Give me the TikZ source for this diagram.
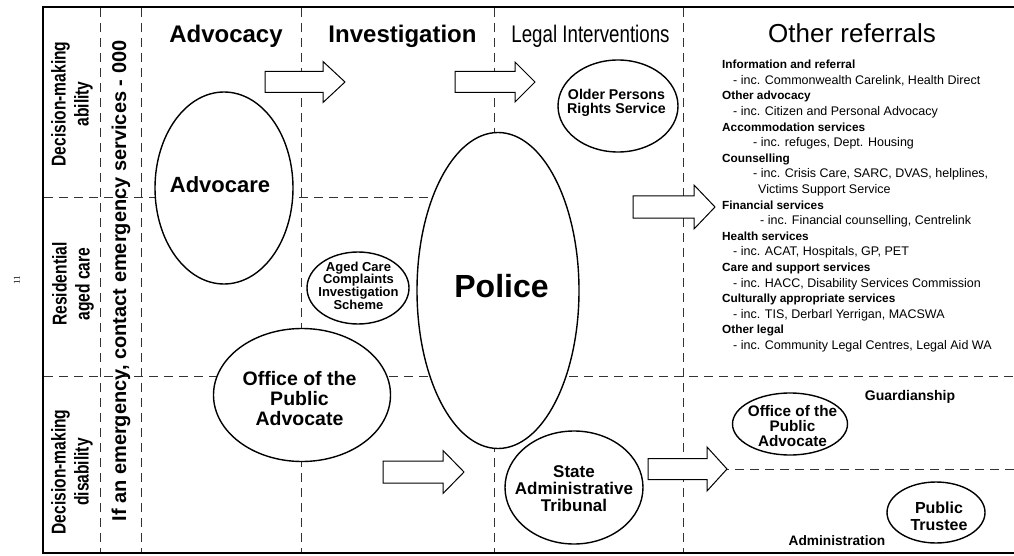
\documentclass[tikz,border=0pt]{standalone}
\usepackage{fontspec}
\setmainfont{Liberation Sans}
\newfontfamily\narrowfont[FakeStretch=0.78]{Liberation Sans}
\newfontfamily\seriffont{Liberation Serif}
\usetikzlibrary{shapes.geometric}
\newcommand\fs[2]{\fontsize{#1}{#2}\selectfont}
\newcommand\blockarr[6]{\draw[blockarrow] (#1,#4-#5) -- (#2,#4-#5) -- (#2,#4-#6) -- (#3,#4) -- (#2,#4+#6) -- (#2,#4+#5) -- (#1,#4+#5) -- cycle;}
\newcommand\refhead[1]{{\bfseries\fs{11.8}{15.6}#1}}
\begin{document}
\begin{tikzpicture}[x=1pt,y=-1pt,
  divline/.style={draw=black!80,line width=0.9pt,dash pattern=on 9pt off 6pt},
  frameline/.style={draw=black,line width=2pt},
  bubble/.style={draw=black,fill=white,ellipse,line width=1.4pt,inner sep=0pt},
  btext/.style={inner sep=0pt,align=center},
  blockarrow/.style={draw=black,fill=white,line width=1pt,line join=miter},
  colhead/.style={anchor=base,inner sep=0pt},
  rowlabel/.style={rotate=90,align=center,inner sep=0pt,font=\narrowfont\bfseries\fs{20}{23}}
]
\useasboundingbox (0,0) rectangle (1014,556);
\fill[white] (0,0) rectangle (1014,556);

% frame
\coordinate (tl) at (43,7);
\coordinate (tr) at (1014,7);
\coordinate (bl) at (43,553);
\coordinate (br) at (1014,553);
\draw[frameline] (tr) -- (tl) -- (bl) -- (br);

% vertical dividers
\draw[divline] (100,8) -- (100,552);
\draw[divline] (141,8) -- (141,552);
\draw[divline] (301,8) -- (301,552);
\draw[divline] (494,8) -- (494,552);
\draw[divline] (683,8) -- (683,552);
% horizontal dividers
\draw[divline] (44,197) -- (498,197);
\draw[divline] (44,376) -- (1014,376);
\draw[divline] (720,469) -- (1014,469);

% block arrows
\blockarr{265}{323}{345}{82}{10.5}{20.5}
\blockarr{455}{515}{535}{82}{10.5}{20}
\blockarr{633}{694}{715}{207}{11}{22}
\blockarr{383}{443}{464}{472}{11}{21.5}
\blockarr{648}{707}{727}{469}{10.5}{22}

% ellipses
\node[bubble,minimum width=138pt,minimum height=192pt] (advocare) at (224,188) {};
\node[bubble,minimum width=102pt,minimum height=72pt] (acc) at (358,288) {};
\node[bubble,minimum width=177pt,minimum height=133pt] (opa) at (302,395) {};
\node[bubble,minimum width=162pt,minimum height=316pt] (police) at (498,290.5) {};
\node[bubble,minimum width=120pt,minimum height=92pt] (oprs) at (618,106) {};
\node[bubble,minimum width=138pt,minimum height=113pt] (sat) at (574,487.5) {};
\node[bubble,minimum width=115pt,minimum height=62pt] (opa2) at (790,424) {};
\node[bubble,minimum width=98pt,minimum height=61pt] (pt) at (936,512.5) {};

% ellipse texts
\node[btext,anchor=base,font=\bfseries\fs{22}{24}] (advocare-t) at (220,193) {Advocare};
\node[btext,font=\bfseries\fs{13}{12.7}] (acc-t) at (358.5,285.5) {Aged Care\\Complaints\\Investigation\\Scheme};
\node[btext,font=\bfseries\fs{19.5}{19.7}] (opa-t) at (299.5,398.5) {Office of the\\Public\\Advocate};
\node[btext,anchor=base,font=\bfseries\fs{32}{34}] (police-t) at (501.5,297) {Police};
\node[btext,font=\bfseries\fs{14.2}{14.2}] (oprs-t) at (616.5,103) {Older Persons\\Rights Service};
\node[btext,font=\bfseries\fs{17}{17}] (sat-t) at (574,488.5) {State\\Administrative\\Tribunal};
\node[btext,font=\bfseries\fs{15.3}{15}] (opa2-t) at (792.5,426.5) {Office of the\\Public\\Advocate};
\node[btext,font=\bfseries\fs{16}{17}] (pt-t) at (939,516) {Public\\Trustee};

% column headers
\node[colhead,font=\bfseries\fs{24}{26}] (h-adv) at (226,43) {Advocacy};
\node[colhead,font=\bfseries\fs{24}{26}] (h-inv) at (402.5,43) {Investigation};
\node[colhead,font=\narrowfont\fs{24}{26}] (h-legal) at (590.5,43) {Legal Interventions};
\node[colhead,font=\fs{26}{28}] (h-other) at (852,43) {Other referrals};

% row labels
\node[rowlabel] (r-ability) at (72,104) {Decision-making\\ability};
\node[rowlabel] (r-aged) at (73,284) {Residential\\aged care};
\node[rowlabel] (r-disab) at (72,472) {Decision-making\\disability};
\node[rotate=90,inner sep=0pt,font=\bfseries\fs{20}{22}] (emerg) at (121,281) {If an emergency, contact emergency services - 000};

% page number
\node[rotate=90,inner sep=0pt,font=\seriffont\fs{9}{9}] (pageno) at (17,280) {11};

% other referrals list
\node[anchor=north west,inner sep=0pt,align=left,font=\fs{12.5}{15.6}] (reflist) at (722,60) {%
\refhead{Information and referral}\\
\hspace*{11pt}- inc. Commonwealth Carelink, Health Direct\\
\refhead{Other advocacy}\\
\hspace*{11pt}- inc. Citizen and Personal Advocacy\\
\refhead{Accommodation services}\\
\hspace*{31pt}- inc. refuges, Dept. Housing\\
\refhead{Counselling}\\
\hspace*{31pt}- inc. Crisis Care, SARC, DVAS, helplines,\\
\hspace*{36pt}Victims Support Service\\
\refhead{Financial services}\\
\hspace*{38pt}- inc. Financial counselling, Centrelink\\
\refhead{Health services}\\
\hspace*{11pt}- inc. ACAT, Hospitals, GP, PET\\
\refhead{Care and support services}\\
\hspace*{11pt}- inc. HACC, Disability Services Commission\\
\refhead{Culturally appropriate services}\\
\hspace*{11pt}- inc. TIS, Derbarl Yerrigan, MACSWA\\
\refhead{Other legal}\\
\hspace*{11pt}- inc. Community Legal Centres, Legal Aid WA};

\node[inner sep=0pt,font=\bfseries\fs{14}{14}] (guard) at (910,397) {Guardianship};
\node[inner sep=0pt,font=\bfseries\fs{13.7}{14}] (admin) at (837,541) {Administration};
\end{tikzpicture}
\end{document}
